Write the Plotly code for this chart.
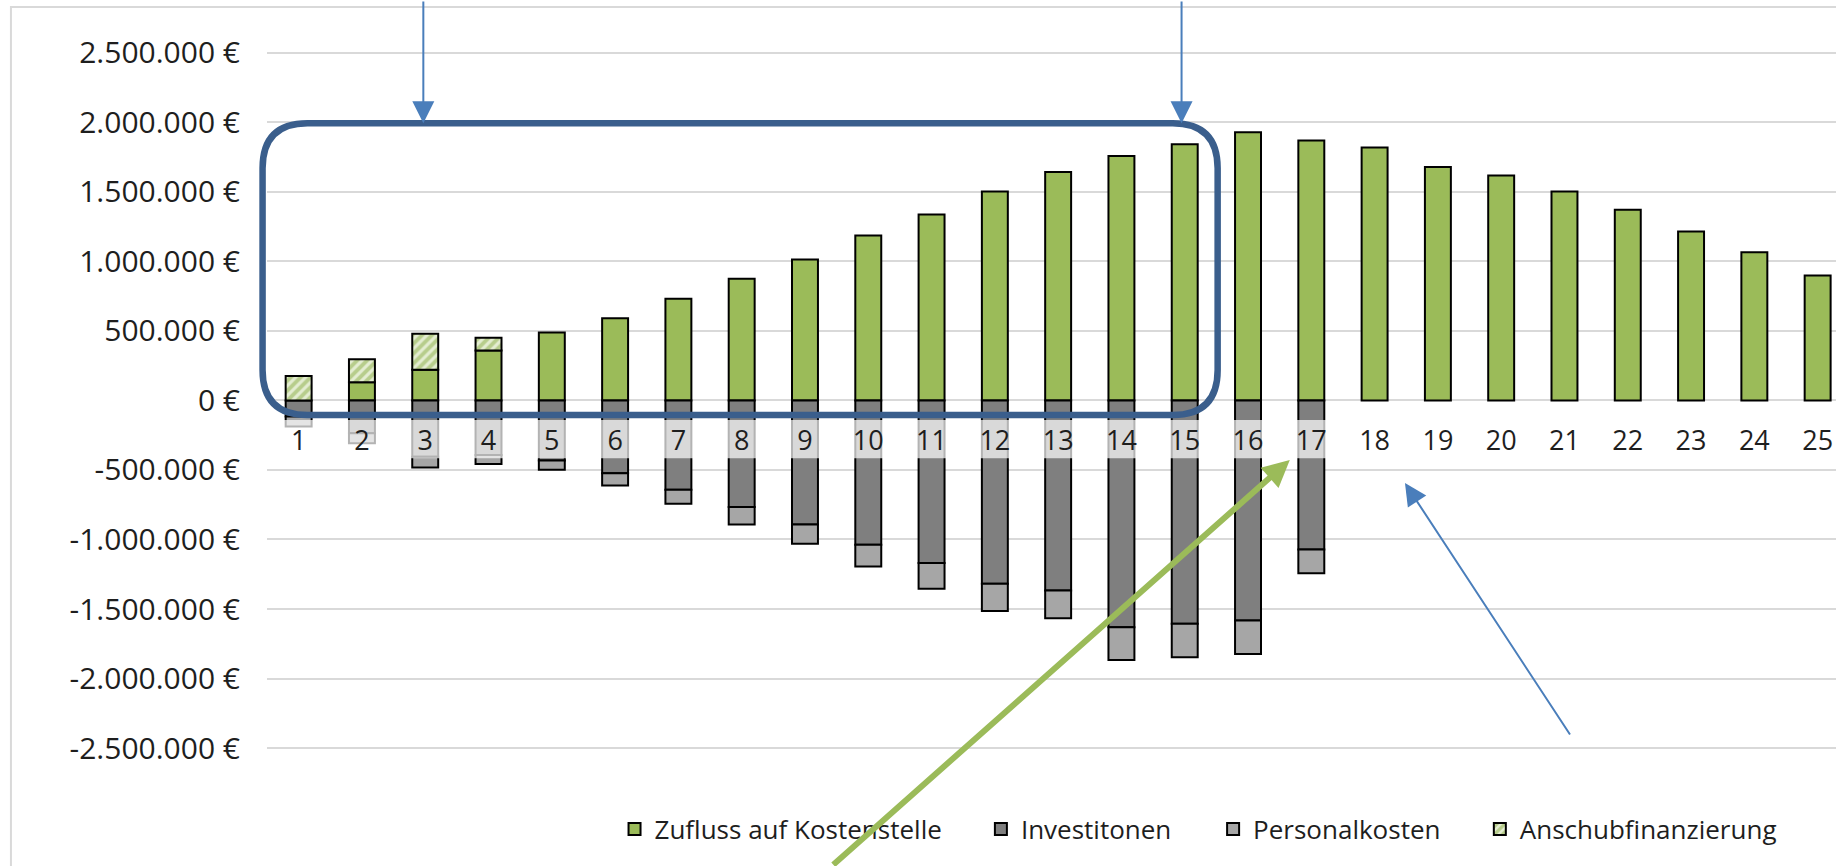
import plotly.graph_objects as go

# Jahre (Kategorien der x-Achse)
YEARS = list(range(1, 26))
YEAR_LABELS = [str(y) for y in YEARS]

# Zahlungsströme je Jahr in €
ZUFLUSS = [None, 132000, 221000, 360000, 489000, 592000, 731000, 875000,
           1014000, 1187000, 1338000, 1504000, 1643000, 1758000, 1844000,
           1930000, 1871000, 1820000, 1679000, 1619000, 1504000, 1372000,
           1216000, 1067000, 899000]
INVESTITIONEN = [-115000, -236000, -405000, -392000, -432000, -523000,
                 -643000, -767000, -892000, -1038000, -1170000, -1319000,
                 -1367000, -1631000, -1607000, -1583000, -1072000,
                 None, None, None, None, None, None, None, None]
PERSONALKOSTEN = [-73000, -72000, -78000, -65000, -67000, -89000, -100000,
                  -125000, -139000, -156000, -185000, -196000, -199000,
                  -235000, -240000, -240000, -170000,
                  None, None, None, None, None, None, None, None]
ANSCHUB = [176000, 164000, 259000, 91000,
           None, None, None, None, None, None, None, None, None, None, None,
           None, None, None, None, None, None, None, None, None, None]

SERIES_NAMES = ["Zufluss auf Kostenstelle", "Investitonen",
                "Personalkosten", "Anschubfinanzierung"]

Y_TICKS = [-2500000, -2000000, -1500000, -1000000, -500000, 0,
           500000, 1000000, 1500000, 2000000, 2500000]
Y_TICK_TEXT = ["-2.500.000 €", "-2.000.000 €", "-1.500.000 €",
               "-1.000.000 €", "-500.000 €", "0 €", "500.000 €",
               "1.000.000 €", "1.500.000 €", "2.000.000 €", "2.500.000 €"]

Y_RANGE = [-2874000, 2773000]
X_RANGE = [0.5, 25.29]

# halbtransparente Füllung des Beschriftungsbereichs der x-Achse (in €)
LABEL_FILL = [-140000, -415000]

# Hervorhebung Jahre 1–15 (x in Jahren, y in €) und Hinweispfeile
BOX_X = [0.43, 15.52]
BOX_Y = [-104000, 1994000]
BOX_R = [0.71, 324000]

FONT = "Open Sans"
TEXT = "#1e1e1e"
GREEN = "#9bbb59"
DARK = "#7f7f7f"
LIGHT = "#a6a6a6"
OUTLINE = dict(color="black", width=2)

fig = go.Figure()

fig.add_trace(go.Bar(x=YEARS, y=ZUFLUSS, name=SERIES_NAMES[0],
                     marker=dict(color=GREEN, line=OUTLINE), legend="legend"))
fig.add_trace(go.Bar(x=YEARS, y=INVESTITIONEN, name=SERIES_NAMES[1],
                     marker=dict(color=DARK, line=OUTLINE), legend="legend2"))
fig.add_trace(go.Bar(x=YEARS, y=PERSONALKOSTEN, name=SERIES_NAMES[2],
                     marker=dict(color=LIGHT, line=OUTLINE), legend="legend3"))
fig.add_trace(go.Bar(x=YEARS, y=ANSCHUB, name=SERIES_NAMES[3],
                     marker=dict(color=GREEN, line=OUTLINE,
                                 pattern=dict(shape="/", fgcolor="#8aad45",
                                              bgcolor="#e4edd2", size=7,
                                              solidity=0.55)),
                     legend="legend4"))

# Achsenbeschriftungsfläche über den Balken
fig.add_trace(go.Scatter(
    x=[X_RANGE[0], X_RANGE[1], X_RANGE[1], X_RANGE[0], X_RANGE[0]],
    y=[LABEL_FILL[0], LABEL_FILL[0], LABEL_FILL[1], LABEL_FILL[1], LABEL_FILL[0]],
    mode="lines", line=dict(width=0), fill="toself",
    fillcolor="rgba(255,255,255,0.7)", hoverinfo="skip", showlegend=False))


def xpaper(year):
    """Jahr -> x-Position relativ zur Zeichenfläche."""
    return (year - X_RANGE[0]) / (X_RANGE[1] - X_RANGE[0])


x0, x1 = xpaper(BOX_X[0]), xpaper(BOX_X[1])
rx = xpaper(BOX_X[0] + BOX_R[0]) - x0
y0, y1 = BOX_Y
ry = BOX_R[1]
box_path = (f"M {x0 + rx},{y1} L {x1 - rx},{y1} Q {x1},{y1} {x1},{y1 - ry} "
            f"L {x1},{y0 + ry} Q {x1},{y0} {x1 - rx},{y0} "
            f"L {x0 + rx},{y0} Q {x0},{y0} {x0},{y0 + ry} "
            f"L {x0},{y1 - ry} Q {x0},{y1} {x0 + rx},{y1} Z")

zero_pos = (0 - Y_RANGE[0]) / (Y_RANGE[1] - Y_RANGE[0])

legend_common = dict(orientation="h", yanchor="middle", y=-0.037,
                     xanchor="left", bgcolor="rgba(0,0,0,0)",
                     font=dict(family=FONT, size=26, color=TEXT),
                     itemclick=False, itemdoubleclick=False)

fig.update_layout(
    width=1836, height=866,
    margin=dict(l=267, r=0, t=15, b=66),
    paper_bgcolor="white", plot_bgcolor="white",
    barmode="relative", bargap=0.59,
    font=dict(family=FONT, size=26, color=TEXT),
    xaxis=dict(range=X_RANGE, tickvals=YEARS, ticktext=YEAR_LABELS,
               showgrid=False, zeroline=False, showline=False, ticks="",
               anchor="free", position=zero_pos, ticklabelstandoff=22,
               tickfont=dict(family=FONT, size=27, color=TEXT)),
    yaxis=dict(range=Y_RANGE, tickvals=Y_TICKS, ticktext=Y_TICK_TEXT,
               showgrid=True, gridcolor="#d9d9d9", gridwidth=2,
               zeroline=False, showline=False, ticks="",
               ticklabelstandoff=26,
               tickfont=dict(family=FONT, size=30, color=TEXT)),
    legend=dict(x=0.2215, **legend_common),
    legend2=dict(x=0.4550, **legend_common),
    legend3=dict(x=0.6030, **legend_common),
    legend4=dict(x=0.7730, **legend_common),
    shapes=[
        # Diagrammrahmen
        dict(type="rect", xref="paper", yref="paper",
             x0=-0.1632, x1=1.2, y0=-0.3, y1=1.0102,
             line=dict(color="#d9d9d9", width=2), layer="below"),
        # Hervorhebung Jahre 1–15
        dict(type="path", xref="paper", yref="y", path=box_path,
             line=dict(color="#3a5e8c", width=6.5)),
    ],
    annotations=[
        dict(x=2.97, y=BOX_Y[1], xref="x", yref="y", text="", showarrow=True,
             ax=0, ay=-130, arrowhead=2, arrowsize=2.2, arrowwidth=2,
             arrowcolor="#4a7ebb", standoff=0),
        dict(x=14.95, y=BOX_Y[1], xref="x", yref="y", text="", showarrow=True,
             ax=0, ay=-130, arrowhead=2, arrowsize=2.2, arrowwidth=2,
             arrowcolor="#4a7ebb", standoff=0),
        dict(x=18.48, y=-594000, xref="x", yref="y", text="", showarrow=True,
             ax=166, ay=253, arrowhead=2, arrowsize=2.2, arrowwidth=2,
             arrowcolor="#4a7ebb", standoff=0),
        dict(x=16.66, y=-428000, xref="x", yref="y", text="", showarrow=True,
             ax=-458, ay=426, arrowhead=2, arrowsize=0.9, arrowwidth=6,
             arrowcolor=GREEN, standoff=0),
    ],
)

fig.write_html("out.html", config={"displayModeBar": False})
